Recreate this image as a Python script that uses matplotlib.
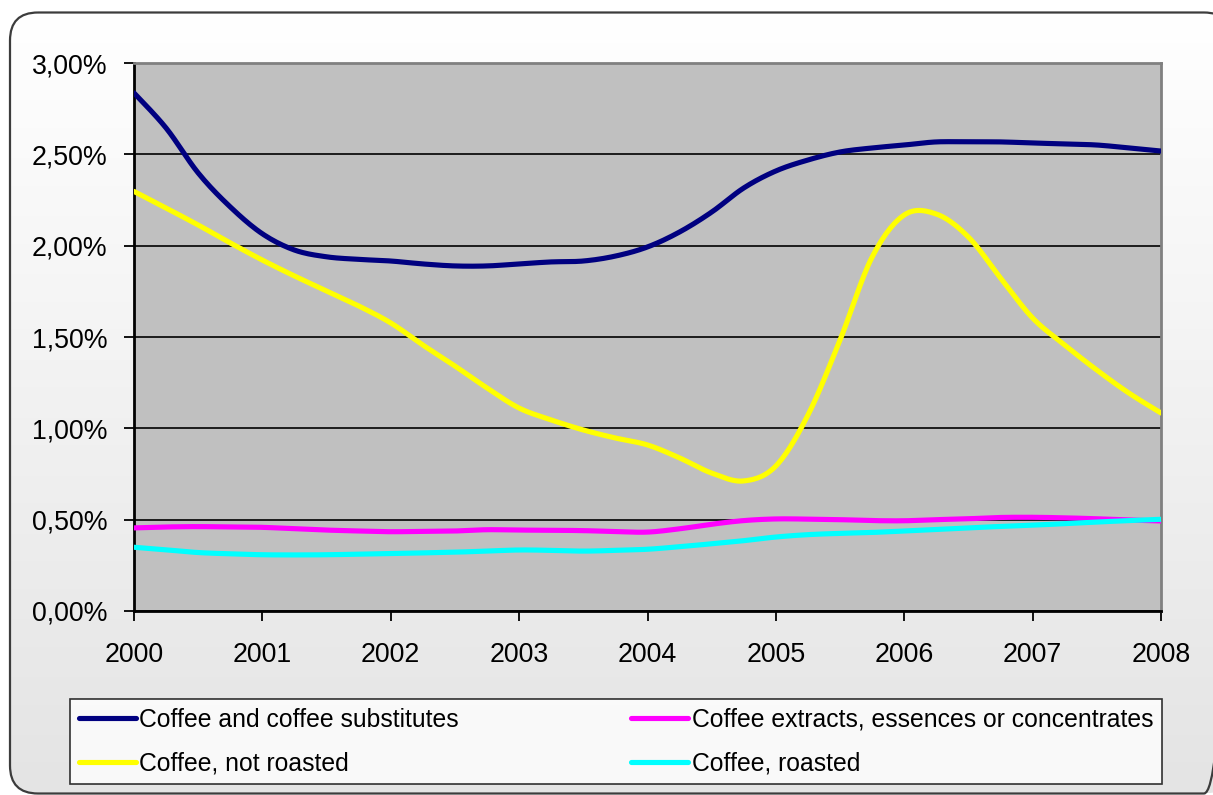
import numpy as np
import matplotlib
matplotlib.use("Agg")
import matplotlib.pyplot as plt
from matplotlib.patches import FancyBboxPatch
from matplotlib.colors import LinearSegmentedColormap
from matplotlib.ticker import FuncFormatter, MultipleLocator

plt.rcParams['font.family'] = ['Liberation Sans', 'DejaVu Sans']

W, H = 1213, 795

# quarterly observations, 2000 Q1 .. 2008 Q1 (share in %)
quarters = [2000 + q / 4 for q in range(33)]
substitutes = [2.836, 2.644, 2.398, 2.212, 2.065, 1.976, 1.939, 1.925, 1.916,
               1.900, 1.889, 1.889, 1.900, 1.911, 1.916, 1.943, 1.993, 2.075,
               2.184, 2.316, 2.409, 2.469, 2.513, 2.535, 2.551, 2.568, 2.568,
               2.568, 2.562, 2.557, 2.551, 2.535, 2.518]
not_roasted = [2.297, 2.206, 2.113, 2.015, 1.921, 1.834, 1.752, 1.670, 1.577,
               1.456, 1.341, 1.221, 1.111, 1.046, 0.991, 0.947, 0.909, 0.838,
               0.755, 0.712, 0.794, 1.073, 1.484, 1.938, 2.168, 2.173, 2.047,
               1.823, 1.604, 1.456, 1.319, 1.193, 1.084]
extracts = [0.455, 0.460, 0.462, 0.460, 0.458, 0.450, 0.443, 0.438, 0.434,
            0.436, 0.438, 0.445, 0.443, 0.442, 0.440, 0.435, 0.432, 0.450,
            0.475, 0.495, 0.504, 0.503, 0.500, 0.495, 0.494, 0.500, 0.505,
            0.512, 0.513, 0.510, 0.505, 0.498, 0.493]
roasted = [0.349, 0.335, 0.320, 0.313, 0.308, 0.307, 0.308, 0.311, 0.314,
           0.318, 0.322, 0.328, 0.334, 0.332, 0.328, 0.332, 0.338, 0.352,
           0.368, 0.385, 0.405, 0.418, 0.425, 0.430, 0.438, 0.447, 0.455,
           0.463, 0.470, 0.478, 0.487, 0.495, 0.502]

series = [
    ("Coffee and coffee substitutes", substitutes, "#000080"),
    ("Coffee, not roasted", not_roasted, "#FFFF00"),
    ("Coffee extracts, essences or concentrates", extracts, "#FF00FF"),
    ("Coffee, roasted", roasted, "#00FFFF"),
]


def smooth(x, y, n=16):
    # Catmull-Rom curve through the points, like a smoothed spreadsheet line
    x = np.asarray(x, float)
    y = np.asarray(y, float)
    xp = np.concatenate([[x[0]], x, [x[-1]]])
    yp = np.concatenate([[y[0]], y, [y[-1]]])
    t = np.linspace(0, 1, n, endpoint=False)
    xs, ys = [], []
    for i in range(1, len(xp) - 2):
        for arr, out in ((xp, xs), (yp, ys)):
            p0, p1, p2, p3 = arr[i - 1], arr[i], arr[i + 1], arr[i + 2]
            out.append(0.5 * (2 * p1 + (-p0 + p2) * t
                              + (2 * p0 - 5 * p1 + 4 * p2 - p3) * t ** 2
                              + (-p0 + 3 * p1 - 3 * p2 + p3) * t ** 3))
    xs.append([x[-1]])
    ys.append([y[-1]])
    return np.concatenate(xs), np.concatenate(ys)


fig = plt.figure(figsize=(W / 100, H / 100), dpi=100)

# rounded chart frame with a soft vertical gradient
bg = fig.add_axes([0, 0, 1, 1], zorder=-10)
bg.set_xlim(0, W)
bg.set_ylim(H, 0)
bg.axis("off")
frame = FancyBboxPatch((10, 12.5), 1222, 781, boxstyle="round,pad=0,rounding_size=28",
                       facecolor="none", edgecolor="#3c3c3c", linewidth=1.6, zorder=2)
bg.add_patch(frame)
grad = np.linspace(0, 1, 256).reshape(-1, 1)
cmap = LinearSegmentedColormap.from_list("fade", ["#FFFFFF", "#E4E4E4"])
img = bg.imshow(grad, extent=(10, 1232, 793.5, 12.5), cmap=cmap, aspect="auto", zorder=1)
img.set_clip_path(frame)

ax = fig.add_axes([134 / W, 1 - 611 / H, 1027 / W, 548 / H])
ax.set_facecolor("#C0C0C0")

for label, vals, color in series:
    xs, ys = smooth(quarters, vals)
    ax.plot(xs, ys, color=color, linewidth=3.7, label=label, solid_capstyle="round", zorder=3)

ax.set_xlim(2000, 2008)
ax.set_ylim(0, 3)
ax.xaxis.set_major_locator(MultipleLocator(1))
ax.yaxis.set_major_locator(MultipleLocator(0.5))
ax.yaxis.set_major_formatter(FuncFormatter(lambda v, p: f"{v:.2f}%".replace(".", ",")))
ax.grid(axis="y", color="black", linewidth=1.2, zorder=1)
ax.set_axisbelow(True)

ax.spines["left"].set_color("black")
ax.spines["bottom"].set_color("black")
ax.spines["top"].set_color("#808080")
ax.spines["right"].set_color("#808080")
for s in ax.spines.values():
    s.set_linewidth(2)

ax.tick_params(axis="both", direction="out", length=7, width=1.3, color="black", labelsize=19.3)
ax.tick_params(axis="x", pad=15)
ax.tick_params(axis="y", pad=12)

handles, labels = ax.get_legend_handles_labels()
leg = fig.legend(handles, labels, ncol=2, loc="center", mode="expand",
                 bbox_to_anchor=(70 / W, 1 - 785 / H, 1092 / W, 87 / H),
                 fontsize=17.8, frameon=True, fancybox=False, borderaxespad=0,
                 handlelength=2.3, handletextpad=0.15, labelspacing=0.8, borderpad=0.36)
leg.get_frame().set_edgecolor("black")
leg.get_frame().set_linewidth(1.2)
leg.get_frame().set_facecolor("white")

fig.savefig("out.png", dpi=100)
